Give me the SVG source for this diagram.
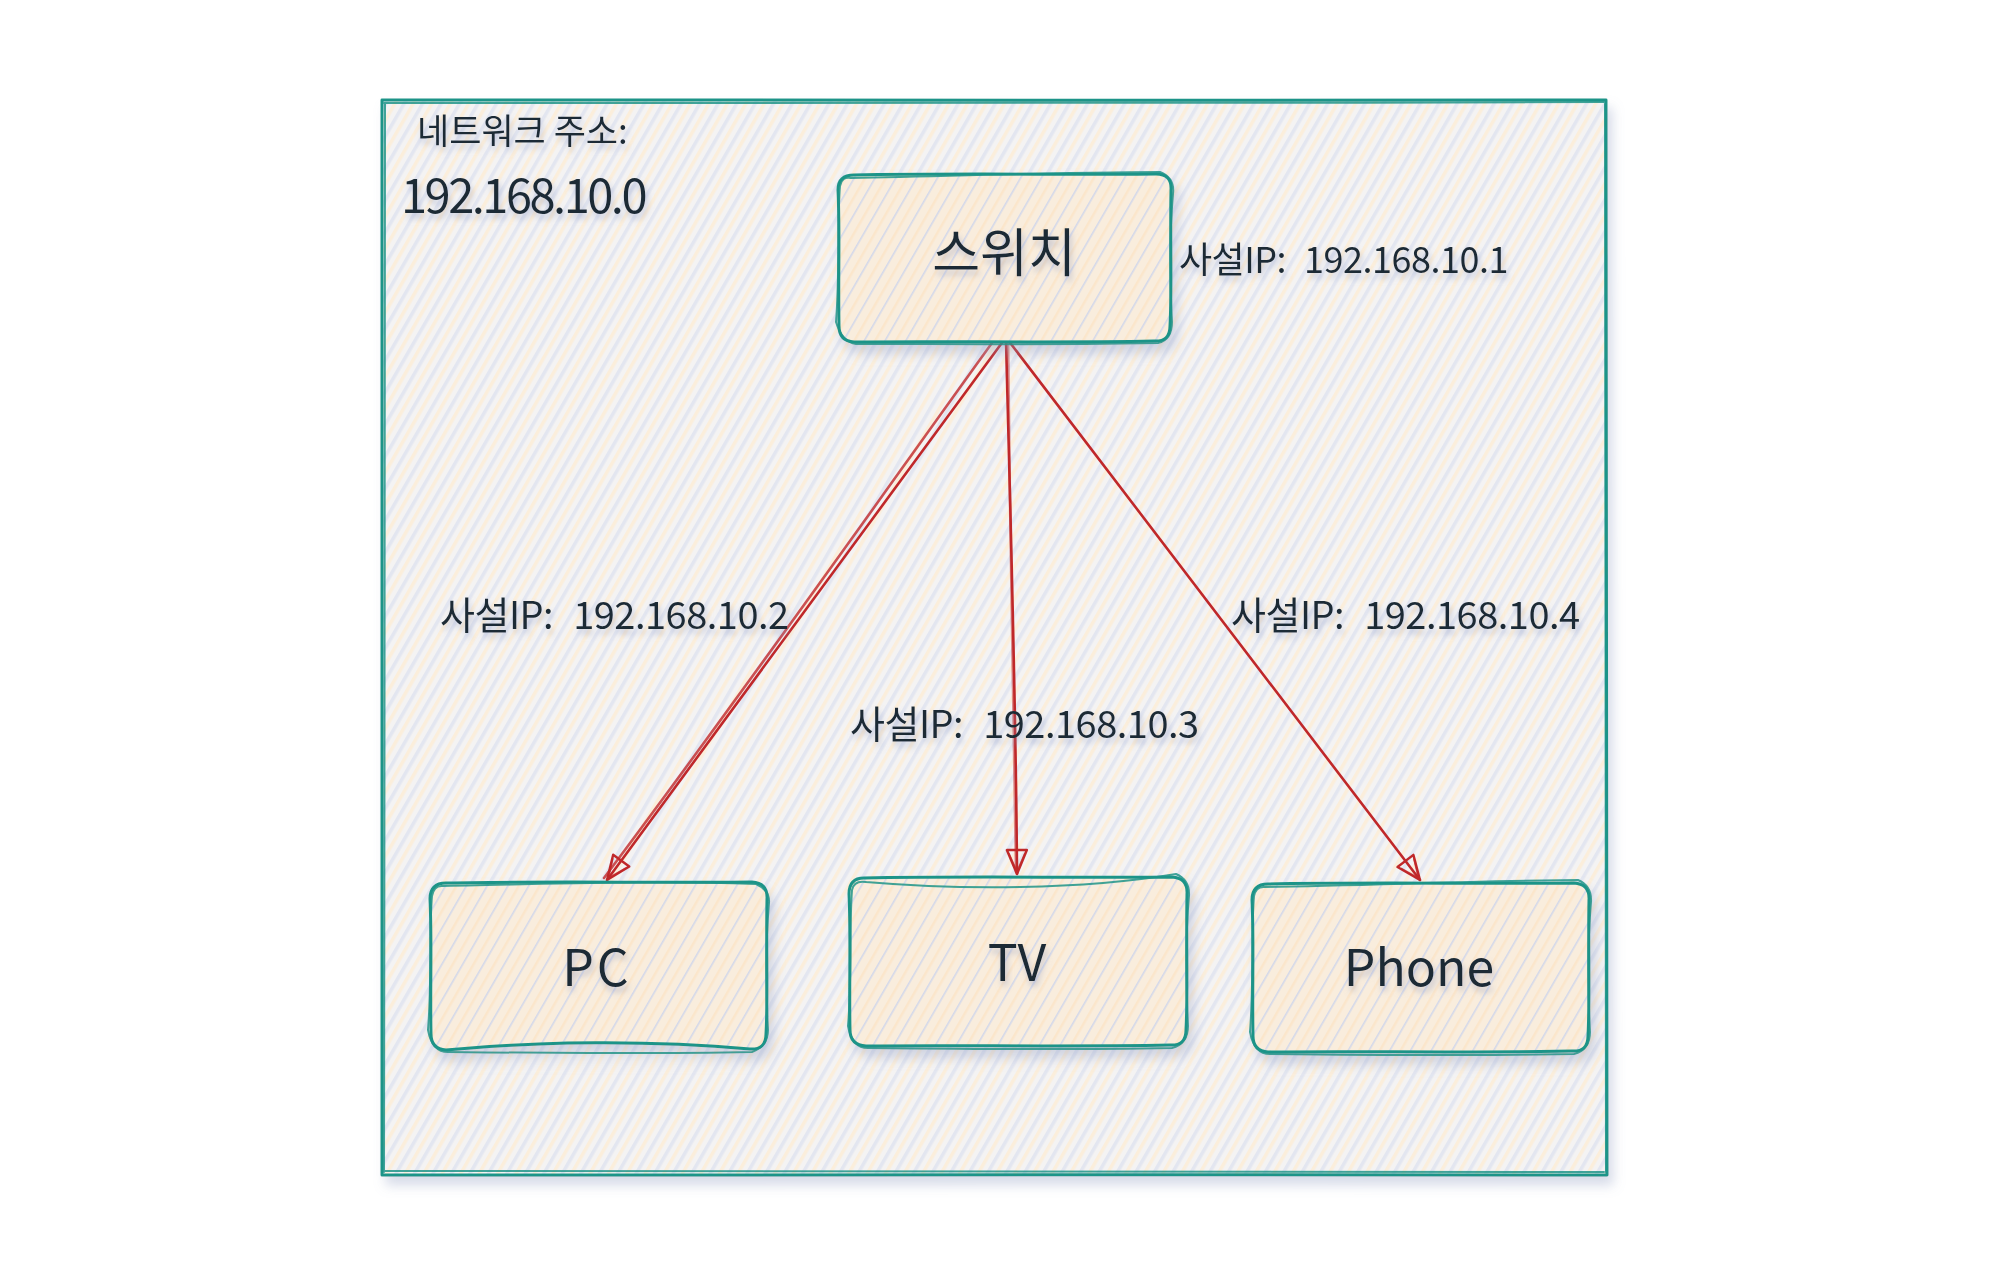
<svg xmlns="http://www.w3.org/2000/svg" width="2000" height="1282" viewBox="0 0 2000 1282">
  <defs>
    <style>
      .frame { fill: url(#hatchFrame); }
      .box { fill: url(#hatchBox); }
      .edge { fill: none; stroke: #1f9488; stroke-width: 3; stroke-linejoin: round; stroke-linecap: round; }
      .edge2 { fill: none; stroke: #1f9488; stroke-width: 2; stroke-linejoin: round; stroke-linecap: round; opacity: 0.85; }
      .txt { font-family: "Noto Sans CJK KR", "Noto Sans", sans-serif; fill: #1c2b35; }
      .lbl { font-size: 38px; letter-spacing: -0.5px; }
      .conn { fill: none; stroke: #c0282a; stroke-width: 2.6; stroke-linecap: round; }
    </style>
    <pattern id="hatchFrame" patternUnits="userSpaceOnUse" width="16" height="16" patternTransform="rotate(30)">
      <rect width="16" height="16" fill="#f4f3f3"/>
      <rect x="0" y="0" width="3.5" height="16" fill="#e3e6f0"/>
      <rect x="8" y="0" width="3.5" height="16" fill="#fbeedb"/>
    </pattern>
    <pattern id="hatchBox" patternUnits="userSpaceOnUse" width="18" height="18" patternTransform="rotate(30)">
      <rect width="18" height="18" fill="#f9eddd"/>
      <rect x="0" y="0" width="1.6" height="18" fill="#d3d8ea"/>
      <rect x="9" y="0" width="2.5" height="18" fill="#fbe6cb"/>
    </pattern>
    <filter id="shadow" x="-10%" y="-10%" width="125%" height="130%">
      <feDropShadow dx="5" dy="9" stdDeviation="6" flood-color="#8f9ac0" flood-opacity="0.35"/>
    </filter>
    <filter id="tshadow" x="-5%" y="-20%" width="115%" height="160%">
      <feDropShadow dx="2" dy="5" stdDeviation="3" flood-color="#8f9ac0" flood-opacity="0.5"/>
    </filter>
    <marker id="arrow" viewBox="0 0 30 30" refX="27" refY="15" markerWidth="30" markerHeight="30" markerUnits="userSpaceOnUse" orient="auto">
      <path d="M3,5 L27,15 L3,25 Z" fill="none" stroke="#c0282a" stroke-width="2.4" stroke-linejoin="round"/>
      <path d="M6,7 L24,15 L6,23" fill="none" stroke="#c0282a" stroke-width="1.4" opacity="0.7"/>
    </marker>
  </defs>

  <rect width="2000" height="1282" fill="#ffffff"/>

  <g id="network-frame" filter="url(#shadow)">
    <rect class="frame" x="382" y="100" width="1225" height="1075"/>
    <path class="edge" d="M382,100 C700,99 1200,101 1606,100 C1607,450 1605,800 1607,1175 C1200,1174 800,1176 382,1175 C383,800 381,450 382,100 Z"/>
    <path class="edge2" d="M384,103 C800,102 1200,104 1604,102 M1605,104 C1606,500 1604,900 1606,1172 M1604,1172 C1100,1171 700,1173 385,1171 M384,1172 C385,800 383,400 385,104"/>
  </g>

  <g id="network-address-label" filter="url(#tshadow)">
    <text class="txt" x="417" y="144" font-size="35">네트워크 주소:</text>
    <text class="txt" x="401" y="213" font-size="47" letter-spacing="-2.5">192.168.10.0</text>
  </g>

  <g id="connectors">
    <path class="conn" d="M1004,340 L607,880" marker-end="url(#arrow)"/>
    <path class="conn" d="M997,336 C900,470 760,670 604,878" opacity="0.8"/>
    <path class="conn" d="M1006,340 C1010,500 1016,700 1017,874" marker-end="url(#arrow)"/>
    <path class="conn" d="M1008,338 C1010,520 1013,720 1016,872" opacity="0.5"/>
    <path class="conn" d="M1008,340 L1420,880" marker-end="url(#arrow)"/>
    <path class="conn" d="M990,318 L1004,336 M1000,314 L1007,336" stroke-width="1.5" opacity="0.7"/>
  </g>

  <g id="switch" filter="url(#shadow)">
    <path class="box" d="M854,175 C950,173 1080,175 1156,174 Q1172,174 1171,190 C1170,240 1172,290 1170,326 Q1170,342 1154,341 C1060,343 940,341 854,342 Q839,341 839,326 C838,280 840,230 838,190 Q838,175 854,175 Z"/>
    <path class="edge" d="M854,175 C950,173 1080,175 1156,174 Q1172,174 1171,190 C1170,240 1172,290 1170,326 Q1170,342 1154,341 C1060,343 940,341 854,342 Q839,341 839,326 C838,280 840,230 838,190 Q838,175 854,175 Z"/>
    <path class="edge2" d="M851,178 C960,176 1070,172 1160,172 Q1175,178 1173,194 C1168,250 1171,300 1172,322 Q1172,340 1158,343 C1050,345 950,344 856,344 Q842,342 836,322 C840,270 837,220 840,186 Q842,176 851,178"/>
    <text class="txt" x="1004" y="272" font-size="52" text-anchor="middle" filter="url(#tshadow)">스위치</text>
  </g>

  <g id="switch-ip" filter="url(#tshadow)">
    <text class="txt" x="1179" y="273" font-size="36" letter-spacing="-0.5">사설IP:<tspan dx="18">192.168.10.1</tspan></text>
  </g>

  <g id="pc" filter="url(#shadow)">
    <path class="box" d="M446,883 C540,881 660,883 752,882 Q768,883 767,899 C766,950 768,1000 766,1034 Q766,1050 750,1049 C650,1040 540,1041 446,1050 Q431,1049 431,1034 C430,990 432,940 430,899 Q430,883 446,883 Z"/>
    <path class="edge" d="M446,883 C540,881 660,883 752,882 Q768,883 767,899 C766,950 768,1000 766,1034 Q766,1050 750,1049 C650,1040 540,1041 446,1050 Q431,1049 431,1034 C430,990 432,940 430,899 Q430,883 446,883 Z"/>
    <path class="edge2" d="M443,886 C560,884 650,880 756,884 Q770,890 769,903 C764,960 767,1010 768,1030 Q768,1046 752,1052 C650,1054 540,1053 448,1052 Q432,1052 428,1030 C432,980 429,930 432,896 Q434,885 443,886"/>
    <text class="txt" x="597" y="986" font-size="50" letter-spacing="3" text-anchor="middle" filter="url(#tshadow)">PC</text>
  </g>

  <g id="tv" filter="url(#shadow)">
    <path class="box" d="M864,878 C960,876 1080,878 1172,877 Q1188,878 1187,894 C1186,945 1188,995 1186,1030 Q1186,1046 1170,1045 C1070,1047 960,1045 866,1046 Q850,1045 850,1030 C849,985 851,935 849,894 Q849,878 864,878 Z"/>
    <path class="edge" d="M864,878 C960,876 1080,878 1172,877 Q1188,878 1187,894 C1186,945 1188,995 1186,1030 Q1186,1046 1170,1045 C1070,1047 960,1045 866,1046 Q850,1045 850,1030 C849,985 851,935 849,894 Q849,878 864,878 Z"/>
    <path class="edge2" d="M866,882 C960,890 1080,890 1176,874 Q1190,880 1189,896 C1184,950 1187,1000 1188,1026 Q1188,1044 1172,1048 C1070,1050 960,1049 868,1048 Q852,1048 848,1026 C852,980 849,930 852,890 Q854,880 866,882"/>
    <text class="txt" x="1017" y="981" font-size="50" text-anchor="middle" filter="url(#tshadow)">TV</text>
  </g>

  <g id="phone" filter="url(#shadow)">
    <path class="box" d="M1268,884 C1360,882 1480,884 1574,883 Q1590,884 1589,900 C1588,950 1590,1000 1588,1036 Q1588,1052 1572,1051 C1470,1053 1360,1051 1268,1052 Q1253,1051 1253,1036 C1252,990 1254,940 1252,900 Q1252,884 1268,884 Z"/>
    <path class="edge" d="M1268,884 C1360,882 1480,884 1574,883 Q1590,884 1589,900 C1588,950 1590,1000 1588,1036 Q1588,1052 1572,1051 C1470,1053 1360,1051 1268,1052 Q1253,1051 1253,1036 C1252,990 1254,940 1252,900 Q1252,884 1268,884 Z"/>
    <path class="edge2" d="M1265,887 C1380,885 1470,881 1578,880 Q1592,886 1591,902 C1586,960 1589,1010 1590,1032 Q1590,1050 1574,1054 C1470,1056 1360,1055 1270,1054 Q1254,1054 1250,1032 C1254,980 1251,930 1254,896 Q1256,886 1265,887"/>
    <text class="txt" x="1419" y="986" font-size="50" text-anchor="middle" filter="url(#tshadow)">Phone</text>
  </g>

  <g id="edge-labels" filter="url(#tshadow)">
    <text class="txt lbl" x="440" y="629">사설IP:<tspan dx="20">192.168.10.2</tspan></text>
    <text class="txt lbl" x="850" y="738">사설IP:<tspan dx="20">192.168.10.3</tspan></text>
    <text class="txt lbl" x="1231" y="629">사설IP:<tspan dx="20">192.168.10.4</tspan></text>
  </g>
</svg>
